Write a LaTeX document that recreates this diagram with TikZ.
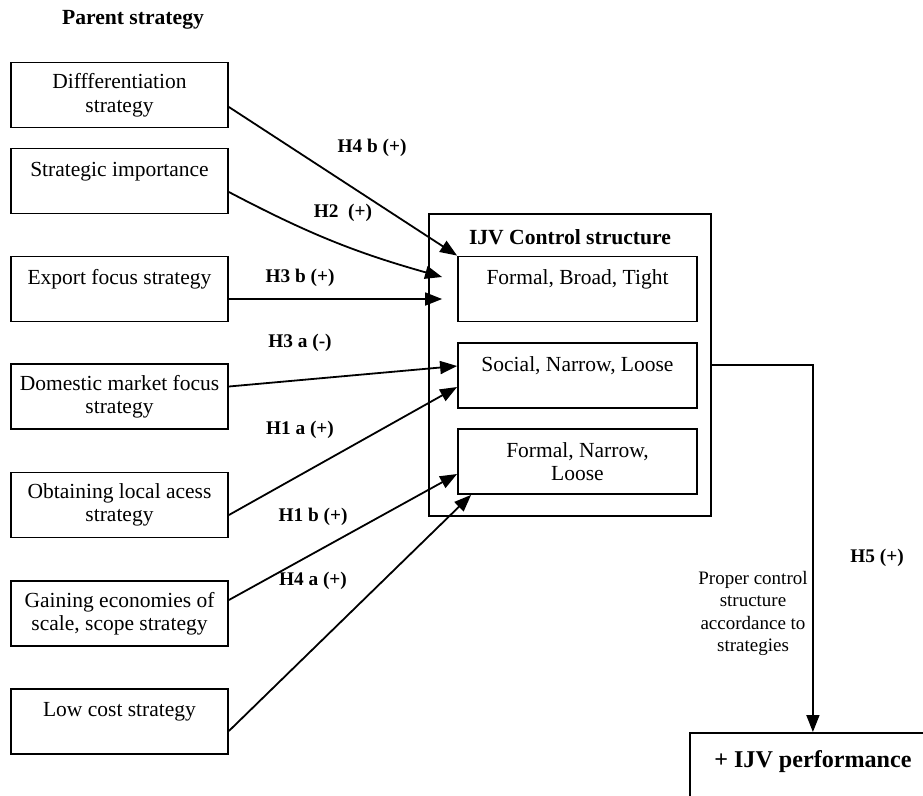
\documentclass[tikz,border=0pt]{standalone}
\usepackage{fontspec}
\setmainfont{Liberation Serif}
\usetikzlibrary{arrows.meta,calc}
\begin{document}
\begin{tikzpicture}[x=1pt,y=-1pt,
  line width=1.8pt,
  body/.style={font=\fontsize{21.5}{23.5}\selectfont},
  box/.style={draw,body,line width=1.8pt,minimum width=217pt,minimum height=65pt,align=center,inner sep=0pt},
  inbox/.style={box,minimum width=239pt},
  hyp/.style={font=\fontsize{19.3}{22}\selectfont\bfseries},
  head/.style={font=\fontsize{21.6}{24}\selectfont\bfseries},
  link/.style={-{Triangle[length=17pt,width=13pt]}},
]
\useasboundingbox (0,0) rectangle (923,795);
\clip (0,0) rectangle (923,795);

% heading of the left column
\node[head] (parent) at (133,20) {Parent strategy};

% parent strategies
\node[box] (b1) at (119.5,95)    {Diffferentiation\\strategy};
\node[box] (b2) at (119.5,181)   {Strategic importance\\~};
\node[box] (b3) at (119.5,289)   {Export focus strategy\\~};
\node[box] (b4) at (119.5,396.5) {Domestic market focus\\strategy};
\node[box] (b5) at (119.5,505)   {Obtaining local acess\\strategy};
\node[box] (b6) at (119.5,613.5) {Gaining economies of\\scale, scope strategy};
\node[box] (b7) at (119.5,721.5) {Low cost strategy\\~};

% control structure
\node[draw,minimum width=282pt,minimum height=302pt,inner sep=0pt] (ctrl) at (570,365) {};
\node[head] (ctrltitle) at (570,237) {IJV Control structure};
\node[inbox] (c1) at (577.5,289)   {Formal, Broad, Tight\\~};
\node[inbox] (c2) at (577.5,375.5) {Social, Narrow, Loose\\~};
\node[inbox] (c3) at (577.5,461.5) {Formal, Narrow,\\Loose};

% performance
\node[draw,anchor=north west,minimum width=246pt,minimum height=80pt,inner sep=0pt,align=center,
      font=\fontsize{24.1}{28}\selectfont\bfseries] (perf) at (689,732) {+ IJV performance\\~};

% hypothesised links
\draw[link] ($(b1.east)+(0,12)$) -- (c1.north west);
\draw[link] ($(b2.east)+(0,11)$) to[bend right=6] ($(c1.west)+(-15,-12)$);
\draw[link] ($(b3.east)+(0,10)$) -- ($(c1.west)+(-15,10)$);
\draw[link] ($(b4.east)+(0,-10)$) -- ($(c2.west)+(0,-9.5)$);
\draw[link] ($(b5.east)+(0,10)$) -- ($(c2.west)+(0,11.5)$);
\draw[link] ($(b6.east)+(0,-13.5)$) -- ($(c3.west)+(0,12.5)$);
\draw[link] ($(b7.east)+(0,9.5)$) -- ($(c3.south west)+(14,0)$);
\draw[link] (ctrl.east) -| (perf.north);

% hypothesis labels
\node[hyp] (h4b) at (372,148) {H4 b (+)};
\node[hyp] (h2)  at (343,213) {H2\ \ (+)};
\node[hyp] (h3b) at (300,278) {H3 b (+)};
\node[hyp] (h3a) at (300,343) {H3 a (-)};
\node[hyp] (h1a) at (300,430) {H1 a (+)};
\node[hyp] (h1b) at (313,517) {H1 b (+)};
\node[hyp] (h4a) at (313,581) {H4 a (+)};
\node[hyp] (h5)  at (877,558) {H5 (+)};

\node[align=center,font=\fontsize{19}{22.3}\selectfont] (fit) at (753,613.5)
  {Proper control\\structure\\accordance to\\strategies};
\end{tikzpicture}
\end{document}
